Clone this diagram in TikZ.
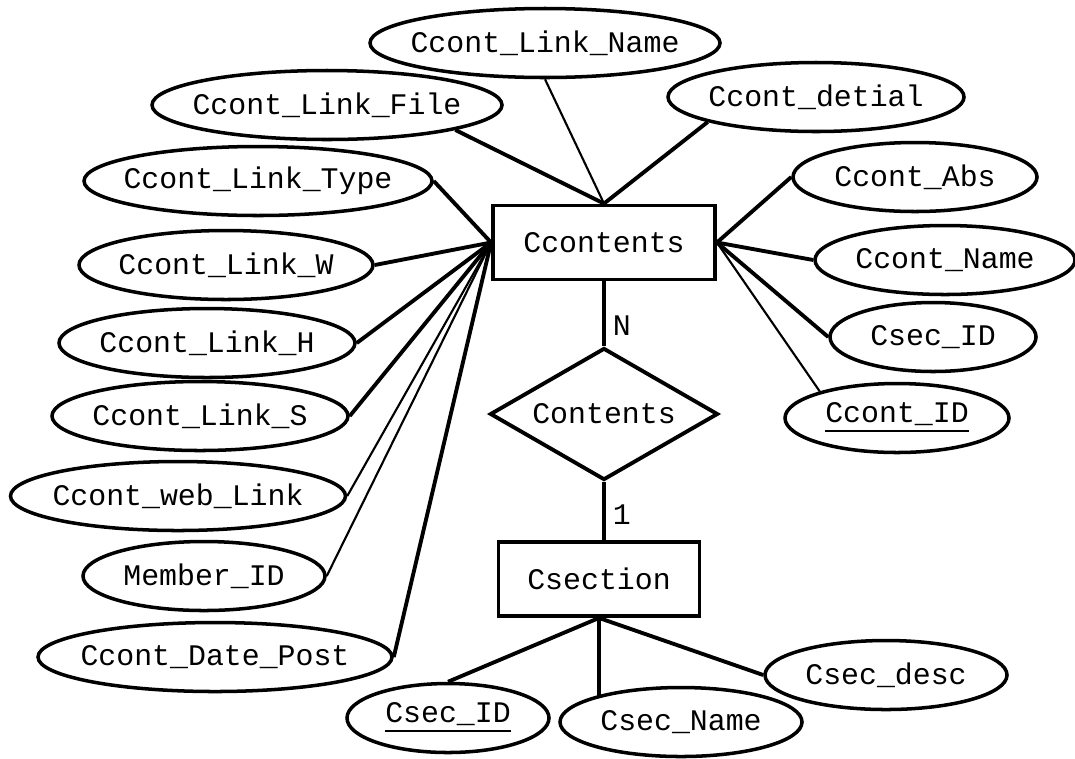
\documentclass[tikz,border=0pt]{standalone}
\usepackage{fontspec}
\setmainfont{Liberation Mono}
\usetikzlibrary{shapes.geometric}

\begin{document}
\begin{tikzpicture}[
    every node/.style={font=\fontsize{8.5}{10}\selectfont},
    zerobox/.style={inner sep=0pt,
      execute at begin node={\hbox to 0pt\bgroup\hss},
      execute at end node={\hss\egroup}},
    attr/.style={zerobox, ellipse, draw, line width=1pt,
      minimum width=#1cm, minimum height=0.69cm},
    entity/.style={zerobox, rectangle, draw, line width=1.1pt,
      minimum width=#1cm, minimum height=0.74cm},
    rel/.style={zerobox, diamond, draw, line width=1.1pt,
      minimum width=2.28cm, minimum height=1.32cm},
    link/.style={line width=1.1pt},
    thinlink/.style={line width=0.6pt}]

    \useasboundingbox (0,0) rectangle (10.75,7.58);

    \node[entity=2.22] (Ccontents) at (6.04,5.155) {Ccontents};
    \node[rel] (Contents) at (6.04,3.44) {Contents};
    \node[entity=2.01] (Csection) at (5.99,1.79) {Csection};

    \node[attr=3.50] (LinkName) at (5.45,7.15) {Ccont\_Link\_Name};
    \node[attr=3.50] (LinkFile) at (3.27,6.53) {Ccont\_Link\_File};
    \node[attr=3.48] (LinkType) at (2.58,5.77) {Ccont\_Link\_Type};
    \node[attr=2.94] (LinkW) at (2.26,4.93) {Ccont\_Link\_W};
    \node[attr=2.96] (LinkH) at (2.07,4.15) {Ccont\_Link\_H};
    \node[attr=2.96] (LinkS) at (2.00,3.42) {Ccont\_Link\_S};
    \node[attr=3.35] (WebLink) at (1.78,2.62) {Ccont\_web\_Link};
    \node[attr=2.42] (MemberID) at (2.04,1.82) {Member\_ID};
    \node[attr=3.54] (DatePost) at (2.15,1.01) {Ccont\_Date\_Post};

    \node[attr=2.96] (Detial) at (8.16,6.61) {Ccont\_detial};
    \node[attr=2.44] (Abs) at (9.15,5.81) {Ccont\_Abs};
    \node[attr=2.60] (Name) at (9.45,4.98) {Ccont\_Name};
    \node[attr=2.06] (SecIDr) at (9.33,4.21) {Csec\_ID};
    \node[attr=2.24] (ContID) at (8.97,3.40) {\underline{Ccont\_ID}};

    \node[attr=2.02] (SecID) at (4.48,0.40) {\underline{Csec\_ID}};
    \node[attr=2.42] (SecName) at (6.81,0.36) {Csec\_Name};
    \node[attr=2.42] (SecDesc) at (8.86,0.83) {Csec\_desc};

    \draw[link] (LinkFile.-11) -- (Ccontents.north);
    \draw[thinlink] (LinkName.south) -- (Ccontents.north);
    \draw[link] (Detial.193) -- (Ccontents.north);

    \foreach \a in {LinkType,LinkW,LinkH,LinkS,DatePost}
      \draw[link] (\a.east) -- (Ccontents.west);
    \foreach \a in {WebLink,MemberID}
      \draw[thinlink] (\a.east) -- (Ccontents.west);

    \foreach \a in {Abs,Name,SecIDr}
      \draw[link] (\a.west) -- (Ccontents.east);
    \draw[thinlink] (ContID.161) -- (Ccontents.east);

    \draw[link] (Ccontents.south) -- node[right,pos=0.69,inner sep=2pt] {N} (Contents.north);
    \draw[link] (Contents.south) -- node[right,pos=0.56,inner sep=2pt] {1} (Contents.south |- Csection.north);

    \draw[link] (Csection.south) -- (SecID.north);
    \draw[link] (Csection.south) -- (Csection.south |- SecName.163);
    \draw[link] (Csection.south) -- (SecDesc.west);
\end{tikzpicture}
\end{document}
